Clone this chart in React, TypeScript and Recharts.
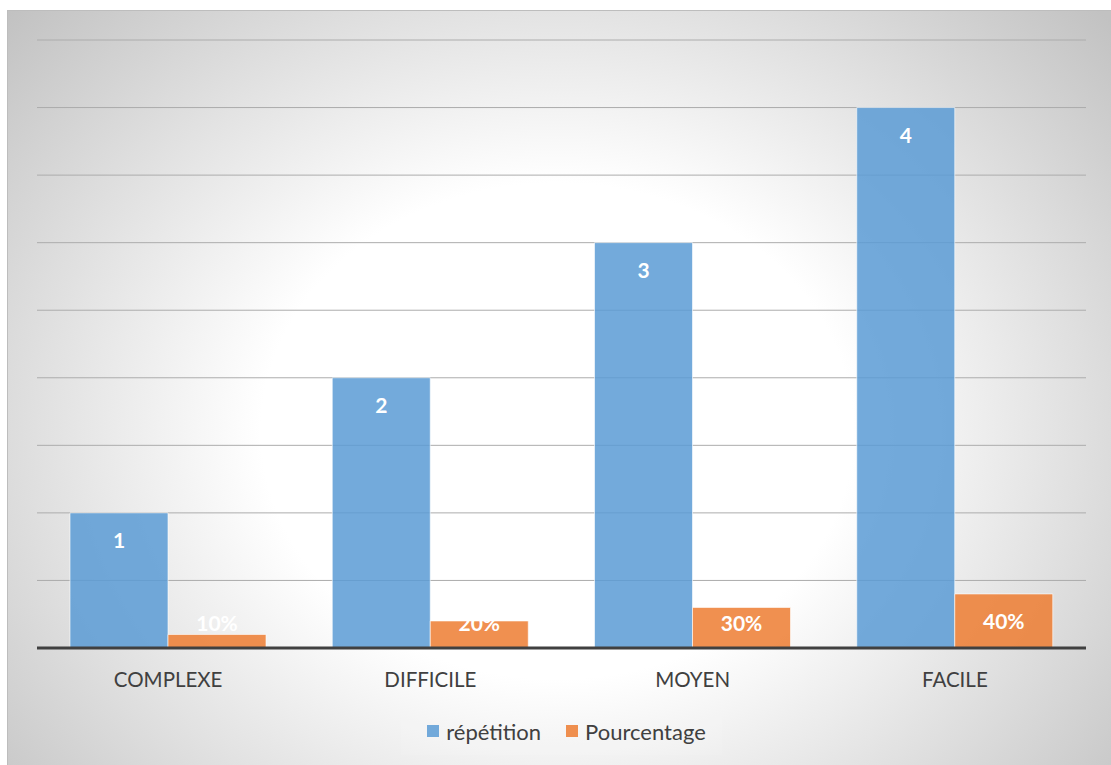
import React from "react";
import { BarChart, Bar, XAxis, YAxis, CartesianGrid, Legend, LabelList } from "recharts";

// Difficulty levels and how often each was chosen
const categories = ["COMPLEXE", "DIFFICILE", "MOYEN", "FACILE"];
const repetition = [1, 2, 3, 4];
const pourcentage = [0.1, 0.2, 0.3, 0.4];
const yTicks = [0, 0.5, 1, 1.5, 2, 2.5, 3, 3.5, 4, 4.5];

const seriesNames = { rep: "répétition", pct: "Pourcentage" };
const seriesOrder = ["rep", "pct"];

const data = categories.map((name, i) => ({
  name,
  rep: repetition[i],
  pct: pourcentage[i],
}));

const FONT = "Lato, 'Open Sans', sans-serif";
const BLUE = "#5B9BD5";
const ORANGE = "#ED7D31";

// White bold value label inside the top of the bar, kept above the baseline
const makeLabel = (fmt: (v: number) => string) => (props: any) => {
  const { x, y, width, height, value } = props;
  const cy = Math.min(y + 27, y + height - 26);
  return (
    <text
      x={x + width / 2}
      y={cy}
      textAnchor="middle"
      dominantBaseline="central"
      fill="#ffffff"
      fontFamily={FONT}
      fontWeight={700}
      fontSize={21}
    >
      {fmt(value)}
    </text>
  );
};

const CategoryTick = (props: any) => {
  const { x, y, payload } = props;
  return (
    <text
      x={x}
      y={y + 31}
      textAnchor="middle"
      dominantBaseline="central"
      fill="#404040"
      fontFamily={FONT}
      fontSize={20.5}
    >
      {payload.value}
    </text>
  );
};

const LegendContent = (props: any) => {
  const items = [...(props.payload || [])].sort(
    (a: any, b: any) => seriesOrder.indexOf(a.dataKey) - seriesOrder.indexOf(b.dataKey)
  );
  return (
    <div
      style={{
        display: "flex",
        justifyContent: "center",
        alignItems: "center",
        height: 48,
      }}
    >
      <div
        style={{
          display: "flex",
          alignItems: "center",
          padding: "0 16px 0 26px",
          height: 48,
          background: "rgba(255,255,255,0.08)",
        }}
      >
        {items.map((entry: any, i: number) => (
          <div
            key={i}
            style={{ display: "flex", alignItems: "center", marginLeft: i === 0 ? 0 : 25 }}
          >
            <span
              style={{
                display: "inline-block",
                width: 12,
                height: 12,
                background: entry.color,
                opacity: 0.85,
                marginRight: 7,
              }}
            />
            <span style={{ fontFamily: FONT, fontSize: 22, color: "#404040" }}>
              {entry.value}
            </span>
          </div>
        ))}
      </div>
    </div>
  );
}

export default function App() {
  return (
    <div
      style={{
        position: "absolute",
        left: 7,
        top: 10,
        width: 1104,
        height: 755,
        boxSizing: "border-box",
        borderTop: "1px solid #bdbdbd",
        borderLeft: "1px solid #bdbdbd",
        background:
          "radial-gradient(ellipse 740px 620px at 549px 420px, #ffffff 0%, #ffffff 40%, #c2c2c2 100%)",
      }}
    >
      <BarChart
        width={1104}
        height={755}
        data={data}
        margin={{ top: 29, right: 26, left: 29, bottom: 11 }}
        barGap={0}
      >
        <CartesianGrid horizontal vertical={false} stroke="#acacac" strokeWidth={1} />
        <YAxis hide domain={[0, 4.5]} ticks={yTicks} />
        <XAxis
          dataKey="name"
          height={59}
          tickLine={false}
          tickSize={0}
          tickMargin={0}
          axisLine={{ stroke: "#404040", strokeWidth: 3 }}
          tick={<CategoryTick />}
        />
        <Legend verticalAlign="bottom" height={48} content={<LegendContent />} />
        <Bar
          dataKey="rep"
          name={seriesNames.rep}
          fill={BLUE}
          fillOpacity={0.85}
          stroke="#ffffff"
          strokeOpacity={0.6}
          barSize={98}
          isAnimationActive={false}
        >
          <LabelList dataKey="rep" content={makeLabel((v) => String(v))} />
        </Bar>
        <Bar
          dataKey="pct"
          name={seriesNames.pct}
          fill={ORANGE}
          fillOpacity={0.85}
          stroke="#ffffff"
          strokeOpacity={0.6}
          barSize={98}
          isAnimationActive={false}
        >
          <LabelList dataKey="pct" content={makeLabel((v) => `${Math.round(v * 100)}%`)} />
        </Bar>
      </BarChart>
    </div>
  );
}
